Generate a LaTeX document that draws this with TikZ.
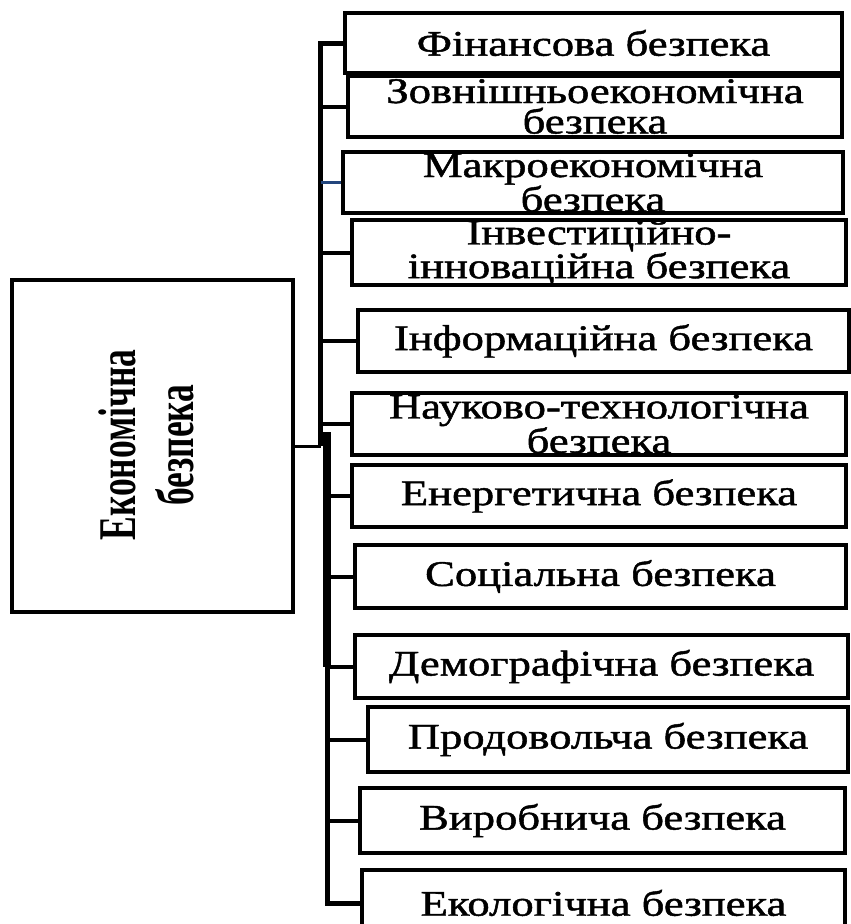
\documentclass[tikz,border=0pt]{standalone}
\usepackage{fontspec}
\setmainfont{Liberation Serif}
\newfontfamily\bxfont[FakeBold=1.2]{Liberation Serif}
\usetikzlibrary{calc}
\definecolor{linkblue}{RGB}{35,70,125}
\newcommand{\sx}[1]{\scalebox{1.24}[1]{#1}}
\newcommand{\mx}[1]{\scalebox{0.67}[1]{#1}}
\begin{document}
\begin{tikzpicture}[x=1pt,y=-1pt,
  bx/.style={draw, line width=4pt, inner sep=0pt, align=center,
    font=\bxfont\fontsize{36}{30.5}\selectfont},
  mainbox/.style={draw, line width=4pt, inner sep=0pt},
  branch/.style={line width=4pt},
  busline/.style={line width=5pt, line join=miter},
  buswide/.style={line width=8pt},
  thinlink/.style={line width=2.5pt, draw=linkblue},
]
\clip (0,0) rectangle (851,924);
\fill[white] (0,0) rectangle (851,924);

% main box
\node[mainbox, minimum width=281, minimum height=332] (main) at (152.5,446) {};
\node[font=\fontsize{53}{58}\selectfont\bfseries, rotate=90, align=center, inner sep=0pt]
  (mainlbl) at (146,445) {\mx{Економічна}\\\mx{безпека}};

% sub boxes
\node[bx, minimum width=497, minimum height=60] (b1) at (593.5,43) {\sx{Фінансова безпека}};
\node[bx, minimum width=494, minimum height=61] (b2) at (595,106.5) {\sx{Зовнішньоекономічна}\\\sx{безпека}};
\node[bx, minimum width=500, minimum height=61] (b3) at (593,182.5) {\sx{Макроекономічна}\\\sx{безпека}};
\node[bx, minimum width=494, minimum height=61] (b4) at (599,252.5) {\sx{Інвестиційно-}\\\sx{інноваційна безпека}};
\node[bx, minimum width=491, minimum height=62] (b5) at (603.5,341) {\sx{Інформаційна безпека}};
\node[bx, minimum width=494, minimum height=62] (b6) at (599,424) {\sx{Науково-технологічна}\\\sx{безпека}};
\node[bx, minimum width=494, minimum height=62] (b7) at (599,496) {\sx{Енергетична безпека}};
\node[bx, minimum width=491, minimum height=63] (b8) at (600.5,576.5) {\sx{Соціальна безпека}};
\node[bx, minimum width=493, minimum height=63] (b9) at (601.5,666.5) {\sx{Демографічна безпека}};
\node[bx, minimum width=480, minimum height=65] (b10) at (608,739.5) {\sx{Продовольча безпека}};
\node[bx, minimum width=485, minimum height=65] (b11) at (602.5,820.5) {\sx{Виробнича безпека}};
\node[bx, minimum width=483, minimum height=66] (b12) at (603.5,903) {\sx{Екологічна безпека}};

% bus coordinates
\coordinate (busU) at (320.5,0);
\coordinate (busL) at (327,0);

% upper bus with first branch
\draw[busline] (b1.west) -- (b1.west -| busU) -- (main.east -| busU);
% lower bus with last branch
\draw[busline] (b12.west) -- (b12.west -| busL) -- (b9.west -| busL);
\draw[buswide] (b9.west -| busL) -- ($(main.east -| busL)+(0,-14)$);

% connector from main box
\draw[line width=3pt] (main.east) -- (main.east -| busU);

% branches
\foreach \b in {b2,b4,b5,b6}
  \draw[branch] (\b.west -| busU) -- (\b.west);
\draw[thinlink] (b3.west -| busU) -- (b3.west);
\foreach \b in {b7,b8,b9,b10,b11}
  \draw[branch] (\b.west -| busL) -- (\b.west);
\end{tikzpicture}
\end{document}
